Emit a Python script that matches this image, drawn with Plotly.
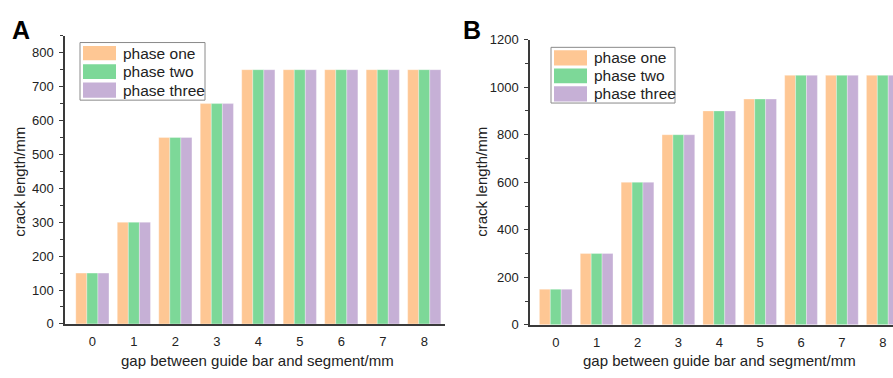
import plotly.graph_objects as go

# Crack length for each gap and loading phase
gaps = ["0", "1", "2", "3", "4", "5", "6", "7", "8"]
series_names = ["phase one", "phase two", "phase three"]
colors = ["#FEC794", "#7DD898", "#C6B0D6"]

a_phase_one = [150, 300, 550, 650, 750, 750, 750, 750, 750]
a_phase_two = [150, 300, 550, 650, 750, 750, 750, 750, 750]
a_phase_three = [150, 300, 550, 650, 750, 750, 750, 750, 750]

b_phase_one = [150, 300, 600, 800, 900, 950, 1050, 1050, 1050]
b_phase_two = [150, 300, 600, 800, 900, 950, 1050, 1050, 1050]
b_phase_three = [150, 300, 600, 800, 900, 950, 1050, 1050, 1050]

W, H = 893, 378
FONT = "Liberation Sans, Arial, sans-serif"
AXIS_COLOR = "#3a3a3a"
TEXT_COLOR = "#222222"


def px_x(v):
    return v / W


def px_y(v):
    return 1 - v / H


fig = go.Figure()

panels = [
    ("x", "y", [a_phase_one, a_phase_two, a_phase_three]),
    ("x2", "y2", [b_phase_one, b_phase_two, b_phase_three]),
]
for xa, ya, data in panels:
    for name, vals, col in zip(series_names, data, colors):
        fig.add_trace(go.Bar(
            x=gaps, y=vals, name=name, xaxis=xa, yaxis=ya,
            marker=dict(color=col, line=dict(color="rgba(255,255,255,0.6)", width=0.5)),
            showlegend=False,
        ))

axis_common = dict(
    showline=True, linecolor=AXIS_COLOR, linewidth=1.5,
    showgrid=False, zeroline=False,
    tickfont=dict(family=FONT, size=13, color=TEXT_COLOR),
)

fig.update_layout(
    width=W, height=H,
    margin=dict(l=0, r=0, t=0, b=0),
    paper_bgcolor="white", plot_bgcolor="white",
    barmode="group", bargap=0.2, bargroupgap=0,
    font=dict(family=FONT, color=TEXT_COLOR),
    xaxis=dict(domain=[px_x(65), px_x(445)], anchor="y", type="category",
               range=[-0.66, 8.5], ticks="", ticklabelstandoff=5, **axis_common),
    yaxis=dict(domain=[px_y(330), px_y(30)], anchor="x", range=[0, 850],
               dtick=100, ticks="outside", ticklen=4, tickwidth=1.2, tickcolor=AXIS_COLOR,
               minor=dict(dtick=50, ticks="outside", ticklen=3, tickwidth=1.2, tickcolor=AXIS_COLOR),
               ticklabelstandoff=3, **axis_common),
    xaxis2=dict(domain=[px_x(530), 1.0], anchor="y2", type="category",
                range=[-0.63, 8.25], ticks="", ticklabelstandoff=5, **axis_common),
    yaxis2=dict(domain=[px_y(331), px_y(34)], anchor="x2", range=[0, 1200],
                dtick=200, ticks="outside", ticklen=4, tickwidth=1.2, tickcolor=AXIS_COLOR,
                minor=dict(dtick=100, ticks="outside", ticklen=3, tickwidth=1.2, tickcolor=AXIS_COLOR),
                ticklabelstandoff=3, **axis_common),
)

annotations = []
shapes = []

# Panel letters
for letter, x in [("A", 10), ("B", 461)]:
    annotations.append(dict(text=f"<b>{letter}</b>", x=px_x(x), y=px_y(24), xref="paper", yref="paper",
                            xanchor="left", yanchor="middle", showarrow=False,
                            font=dict(family=FONT, size=25, color="black")))

# Axis titles
xtitle = "gap between guide bar and segment/mm"
ytitle = "crack length/mm"
for x in [257, 719]:
    annotations.append(dict(text=xtitle, x=px_x(x), y=0, xref="paper", yref="paper",
                            xanchor="center", yanchor="bottom", showarrow=False, borderpad=0,
                            font=dict(family=FONT, size=15, color=TEXT_COLOR)))
for x, yc in [(20, 182), (482, 182)]:
    annotations.append(dict(text=ytitle, x=px_x(x), y=px_y(yc), xref="paper", yref="paper",
                            xanchor="center", yanchor="middle", showarrow=False, textangle=-90,
                            font=dict(family=FONT, size=15, color=TEXT_COLOR)))

# Legend boxes with colour swatches
legends = [
    dict(box=(80, 37, 205, 97), sw_x=(83, 116), text_x=121, rows=[(40.5, 55.5), (59.5, 75), (78.5, 94.5)]),
    dict(box=(551, 42, 675, 100), sw_x=(554, 587), text_x=592, rows=[(45, 61), (64, 79.5), (82.5, 98.5)]),
]
for lg in legends:
    x0, y0, x1, y1 = lg["box"]
    shapes.append(dict(type="rect", xref="paper", yref="paper",
                       x0=px_x(x0), x1=px_x(x1), y0=px_y(y1), y1=px_y(y0),
                       line=dict(color="#8a8a8a", width=1), fillcolor="white", layer="above"))
    for (ry0, ry1), name, col in zip(lg["rows"], series_names, colors):
        shapes.append(dict(type="rect", xref="paper", yref="paper",
                           x0=px_x(lg["sw_x"][0]), x1=px_x(lg["sw_x"][1]),
                           y0=px_y(ry1), y1=px_y(ry0),
                           line=dict(width=0), fillcolor=col, layer="above"))
        annotations.append(dict(text=name, x=px_x(lg["text_x"]), y=px_y((ry0 + ry1) / 2),
                                xref="paper", yref="paper", xanchor="left", yanchor="middle",
                                showarrow=False, font=dict(family=FONT, size=15.5, color=TEXT_COLOR)))

fig.update_layout(annotations=annotations, shapes=shapes)

fig.write_html("out.html")
